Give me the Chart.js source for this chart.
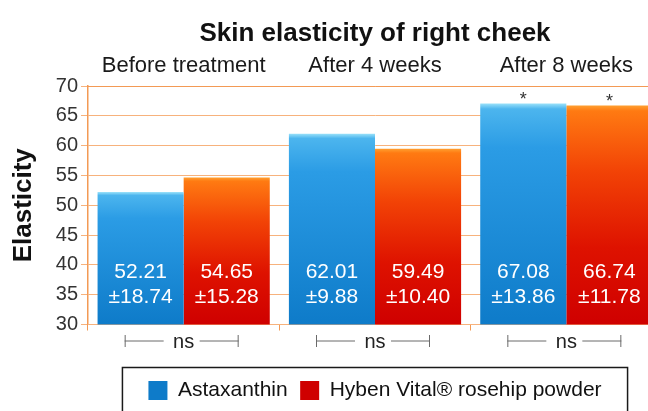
<!DOCTYPE html>
<html>
<head>
<meta charset="utf-8">
<script src="https://cdn.jsdelivr.net/npm/chart.js@4.4.1/dist/chart.umd.min.js"></script>
<style>
  html, body { margin: 0; padding: 0; background: #fff; overflow: hidden; }
  #wrap { width: 662px; height: 411px; }
</style>
</head>
<body>
<div id="wrap"><canvas id="chart" width="662" height="411"></canvas></div>
<script>
const timepoints = ['Before treatment', 'After 4 weeks', 'After 8 weeks'];
const astaxanthinMean = [52.21, 62.01, 67.08];
const astaxanthinSd = [18.74, 9.88, 13.86];
const rosehipMean = [54.65, 59.49, 66.74];
const rosehipSd = [15.28, 10.40, 11.78];
const astaxanthinSig = ['', '', '*'];
const rosehipSig = ['', '', '*'];
const groupComparison = ['ns', 'ns', 'ns'];
const yMin = 30, yMax = 70, yStep = 5;

const FONT = '"Liberation Sans", Arial, sans-serif';
const gridColor = '#f7b27c';
const axisColor = '#f39a55';

// vertical gradient from the top of each bar down to the baseline
function barFill(stops, flat) {
    return function (ctx) {
        const chart = ctx.chart;
        const area = chart.chartArea;
        if (!area || ctx.type !== 'data' || !chart.scales.y) return flat;
        const top = chart.scales.y.getPixelForValue(ctx.raw);
        const g = chart.ctx.createLinearGradient(0, top, 0, area.bottom);
        stops.forEach(function (s) { g.addColorStop(s[0], s[1]); });
        return g;
    };
}

const blueStops = [[0, '#9be2fa'], [0.025, '#4cb5ee'], [0.2, '#2b9ce5'], [1, '#0e7bc9']];
const redStops = [[0, '#ffa030'], [0.025, '#ff7a12'], [0.3, '#f24306'], [0.65, '#de1200'], [1, '#cf0000']];

const barLabels = {
    id: 'barLabels',
    afterDatasetsDraw(chart) {
        const ctx = chart.ctx;
        const bottom = chart.chartArea.bottom;
        ctx.save();
        ctx.textAlign = 'center';
        chart.data.datasets.forEach(function (ds, di) {
            chart.getDatasetMeta(di).data.forEach(function (bar, i) {
                ctx.fillStyle = '#ffffff';
                ctx.font = '21px ' + FONT;
                ctx.textBaseline = 'middle';
                ctx.fillText(ds.data[i].toFixed(2), bar.x, bottom - 52);
                ctx.fillText('\u00b1' + ds.sd[i].toFixed(2), bar.x, bottom - 27);
                if (ds.sig[i]) {
                    ctx.fillStyle = '#333333';
                    ctx.font = '18px ' + FONT;
                    ctx.textBaseline = 'alphabetic';
                    ctx.fillText(ds.sig[i], bar.x, bar.y + 2);
                }
            });
        });
        ctx.restore();
    }
};

// brackets either side of the "ns" labels and the frame round the legend
const extras = {
    id: 'extras',
    afterDraw(chart) {
        const ctx = chart.ctx;
        const x2 = chart.scales.x2;
        const y = 341;
        ctx.save();
        ctx.strokeStyle = '#6a6a6a';
        ctx.lineWidth = 1;
        groupComparison.forEach(function (t, i) {
            const cx = x2.getPixelForTick(i) - 2;
            ctx.beginPath();
            ctx.moveTo(cx - 57, y); ctx.lineTo(cx - 18, y);
            ctx.moveTo(cx + 18, y); ctx.lineTo(cx + 57, y);
            ctx.moveTo(cx - 57 + 0.5, y - 6); ctx.lineTo(cx - 57 + 0.5, y + 6);
            ctx.moveTo(cx + 57 - 0.5, y - 6); ctx.lineTo(cx + 57 - 0.5, y + 6);
            ctx.stroke();
        });

        const boxes = chart.legend.legendHitBoxes;
        if (boxes.length) {
            const first = boxes[0], last = boxes[boxes.length - 1];
            ctx.strokeStyle = '#1a1a1a';
            ctx.lineWidth = 1.5;
            ctx.strokeRect(first.left - 26, first.top - 12.5,
                last.left + last.width - first.left + 52, 90);
        }
        ctx.restore();
    }
};

new Chart(document.getElementById('chart'), {
    type: 'bar',
    data: {
        labels: timepoints,
        datasets: [{
            label: 'Astaxanthin',
            data: astaxanthinMean,
            sd: astaxanthinSd,
            sig: astaxanthinSig,
            backgroundColor: barFill(blueStops, '#2b9ce5'),
            borderWidth: 0
        }, {
            label: 'Hyben Vital\u00ae rosehip powder',
            data: rosehipMean,
            sd: rosehipSd,
            sig: rosehipSig,
            backgroundColor: barFill(redStops, '#ea3208'),
            borderWidth: 0
        }]
    },
    options: {
        responsive: false,
        animation: false,
        devicePixelRatio: 1,
        layout: { padding: 0 },
        categoryPercentage: 0.9,
        barPercentage: 1.0,
        plugins: {
            title: {
                display: true,
                text: 'Skin elasticity of right cheek',
                fullSize: false,
                color: '#111111',
                font: { family: FONT, size: 26, weight: 'bold' },
                padding: { top: 18, bottom: 0 }
            },
            legend: {
                position: 'bottom',
                fullSize: false,
                labels: {
                    color: '#111111',
                    font: { family: FONT, size: 21 },
                    boxWidth: 19,
                    boxHeight: 19,
                    padding: 12.5
                }
            },
            tooltip: { enabled: false }
        },
        scales: {
            x: {
                position: 'top',
                grid: { display: false, drawTicks: false },
                border: { display: true, color: axisColor },
                ticks: {
                    color: '#1a1a1a',
                    padding: 7,
                    font: { family: FONT, size: 22 }
                },
                afterFit: function (scale) { scale.height = 86 - 18 - 31.2; }
            },
            x2: {
                type: 'category',
                labels: groupComparison,
                position: 'bottom',
                offset: true,
                grid: {
                    offset: true,
                    drawOnChartArea: false,
                    drawTicks: true,
                    tickLength: 6,
                    color: axisColor
                },
                border: { display: false },
                ticks: {
                    color: '#222222',
                    padding: 0,
                    font: { family: FONT, size: 20 }
                },
                afterFit: function (scale) { scale.height = 43; }
            },
            y: {
                min: yMin,
                max: yMax,
                ticks: {
                    stepSize: yStep,
                    color: '#333333',
                    padding: 3,
                    font: { family: FONT, size: 20 }
                },
                grid: {
                    color: gridColor,
                    tickLength: 7,
                    lineWidth: 1
                },
                border: { display: true, color: axisColor, width: 1.5 },
                title: {
                    display: true,
                    text: 'Elasticity',
                    color: '#111111',
                    font: { family: FONT, size: 26, weight: 'bold' },
                    padding: { top: 8, bottom: 0 }
                },
                afterFit: function (scale) { scale.width = 88; }
            }
        }
    },
    plugins: [barLabels, extras]
});
</script>
</body>
</html>
